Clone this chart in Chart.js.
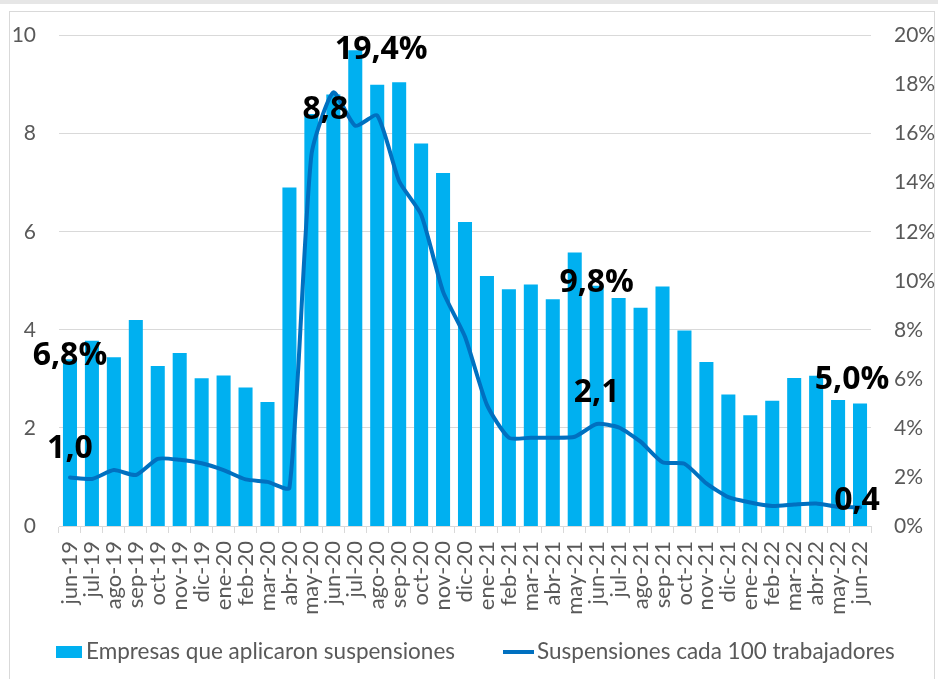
<!DOCTYPE html>
<html>
<head>
<meta charset="utf-8">
<script src="https://cdn.jsdelivr.net/npm/chart.js@4.4.1/dist/chart.umd.min.js"></script>
<style>
  html, body { margin: 0; padding: 0; background: #ffffff; }
  #wrap { position: relative; width: 938px; height: 679px; overflow: hidden; background: #ffffff; }
  #band { position: absolute; left: 0; top: 0; width: 938px; height: 4px; background: #e6e6e6; }
  #frame { position: absolute; left: 9px; top: 11px; width: 926px; height: 700px; border: 1px solid #d9d9d9; box-sizing: border-box; }
  #c { position: absolute; left: 0; top: 0; }
</style>
</head>
<body>
<div id="wrap">
  <div id="band"></div>
  <div id="frame"></div>
  <canvas id="c" width="938" height="679"></canvas>
</div>
<script>
// ---- data ----
const categories = ["jun-19","jul-19","ago-19","sep-19","oct-19","nov-19","dic-19","ene-20","feb-20","mar-20","abr-20","may-20","jun-20","jul-20","ago-20","sep-20","oct-20","nov-20","dic-20","ene-21","feb-21","mar-21","abr-21","may-21","jun-21","jul-21","ago-21","sep-21","oct-21","nov-21","dic-21","ene-22","feb-22","mar-22","abr-22","may-22","jun-22"];

const empresasLabel = "Empresas que aplicaron suspensiones";
const empresasPct = [6.8, 7.56, 6.88, 8.4, 6.53, 7.06, 6.03, 6.14, 5.65, 5.06, 13.8, 16.8, 17.6, 19.4, 18.0, 18.1, 15.6, 14.4, 12.4, 10.2, 9.66, 9.85, 9.25, 11.15, 9.8, 9.3, 8.9, 9.77, 7.97, 6.69, 5.36, 4.52, 5.11, 6.04, 6.13, 5.14, 5.0];

const suspensionesLabel = "Suspensiones cada 100 trabajadores";
const suspensiones = [0.99, 0.96, 1.14, 1.04, 1.37, 1.35, 1.28, 1.14, 0.95, 0.90, 0.78, 7.56, 8.84, 8.16, 8.37, 7.03, 6.35, 4.78, 3.86, 2.47, 1.80, 1.80, 1.80, 1.82, 2.08, 2.01, 1.72, 1.30, 1.27, 0.87, 0.59, 0.48, 0.41, 0.44, 0.46, 0.39, 0.38];

const leftTicks = [0, 2, 4, 6, 8, 10];
const rightTicks = [0, 2, 4, 6, 8, 10, 12, 14, 16, 18, 20];

// ---- styles ----
const FONT = "Lato, 'Open Sans', sans-serif";
const LABEL_FONT = "bold 32px 'Open Sans', Lato, sans-serif";
const GRAY_TXT = "#595959";
const GRID = "#d9d9d9";
const BAR_COLOR = "#00B0F0";
const LINE_COLOR = "#0070C0";

// offsets for the data labels (dataset index, data index, dx, dy)
const labelOffsets = [
  { ds: 0, i: 0,  dx: 0,  dy: -3 },
  { ds: 0, i: 13, dx: 26, dy: 0 },
  { ds: 0, i: 24, dx: 0,  dy: -3 },
  { ds: 0, i: 36, dx: -8, dy: -24 },
  { ds: 1, i: 0,  dx: 0,  dy: -29 },
  { ds: 1, i: 12, dx: -8, dy: 17 },
  { ds: 1, i: 24, dx: 0,  dy: -31 },
  { ds: 1, i: 36, dx: -3, dy: -6 }
];

const fmt = (v, dec) => v.toFixed(dec).replace('.', ',');

const dataLabelPlugin = {
  id: 'dataLabels',
  afterDatasetsDraw(chart) {
    const ctx = chart.ctx;
    ctx.save();
    ctx.font = LABEL_FONT;
    ctx.fillStyle = "#000000";
    ctx.textAlign = "center";
    ctx.textBaseline = "middle";
    labelOffsets.forEach(o => {
      const meta = chart.getDatasetMeta(o.ds);
      const el = meta.data[o.i];
      const v = chart.data.datasets[o.ds].data[o.i];
      const txt = o.ds === 0 ? fmt(v, 1) + "%" : fmt(v, 1);
      ctx.fillText(txt, el.x + o.dx, el.y + o.dy);
    });
    ctx.restore();
  }
};

const legendPlugin = {
  id: 'customLegend',
  afterDraw(chart) {
    const ctx = chart.ctx;
    const ds = chart.data.datasets;
    const yc = 652;
    ctx.save();
    ctx.font = "22.5px " + FONT;
    ctx.textBaseline = "middle";
    ctx.textAlign = "left";
    // bar item
    ctx.fillStyle = ds[0].backgroundColor;
    ctx.fillRect(56, yc - 6, 26, 12);
    ctx.fillStyle = GRAY_TXT;
    ctx.fillText(ds[0].label, 86, yc);
    // line item
    ctx.strokeStyle = ds[1].borderColor;
    ctx.lineWidth = 4;
    ctx.beginPath();
    ctx.moveTo(503, yc);
    ctx.lineTo(534, yc);
    ctx.stroke();
    ctx.fillText(ds[1].label, 537, yc);
    ctx.restore();
  }
};

const chart = new Chart(document.getElementById('c'), {
  data: {
    labels: categories,
    datasets: [
      {
        type: 'bar',
        label: empresasLabel,
        data: empresasPct,
        yAxisID: 'yR',
        backgroundColor: BAR_COLOR,
        borderWidth: 0,
        barPercentage: 0.64,
        categoryPercentage: 1.0,
        order: 2
      },
      {
        type: 'line',
        label: suspensionesLabel,
        data: suspensiones,
        yAxisID: 'yL',
        borderColor: LINE_COLOR,
        backgroundColor: LINE_COLOR,
        borderWidth: 4,
        pointRadius: 0,
        tension: 0.2,
        borderCapStyle: 'round',
        borderJoinStyle: 'round',
        order: 1
      }
    ]
  },
  options: {
    responsive: false,
    animation: false,
    devicePixelRatio: 1,
    layout: { padding: { top: 35, bottom: 53, left: 0, right: 0 } },
    plugins: {
      legend: { display: false },
      tooltip: { enabled: false }
    },
    scales: {
      x: {
        offset: true,
        grid: { display: true, drawOnChartArea: false, drawTicks: true, tickLength: 7, color: GRID, offset: true },
        border: { display: true, color: GRID, width: 1 },
        ticks: {
          autoSkip: false, minRotation: 90, maxRotation: 90,
          font: { family: FONT, size: 22 }, color: GRAY_TXT, padding: 8
        },
        afterFit(s) { s.height = 100; }
      },
      yL: {
        position: 'left',
        min: leftTicks[0], max: leftTicks[leftTicks.length - 1],
        afterBuildTicks(s) { s.ticks = leftTicks.map(v => ({ value: v })); },
        grid: { color: GRID, drawTicks: false, lineWidth: 1 },
        border: { display: false },
        ticks: { font: { family: FONT, size: 21 }, color: GRAY_TXT, padding: 23 },
        afterFit(s) { s.width = 59; }
      },
      yR: {
        position: 'right',
        min: rightTicks[0], max: rightTicks[rightTicks.length - 1],
        afterBuildTicks(s) { s.ticks = rightTicks.map(v => ({ value: v })); },
        grid: { display: false, drawTicks: false },
        border: { display: false },
        ticks: { font: { family: FONT, size: 21 }, color: GRAY_TXT, padding: 23, callback: v => v + '%' },
        afterFit(s) { s.width = 67; }
      }
    }
  },
  plugins: [dataLabelPlugin, legendPlugin]
});
</script>
</body>
</html>
